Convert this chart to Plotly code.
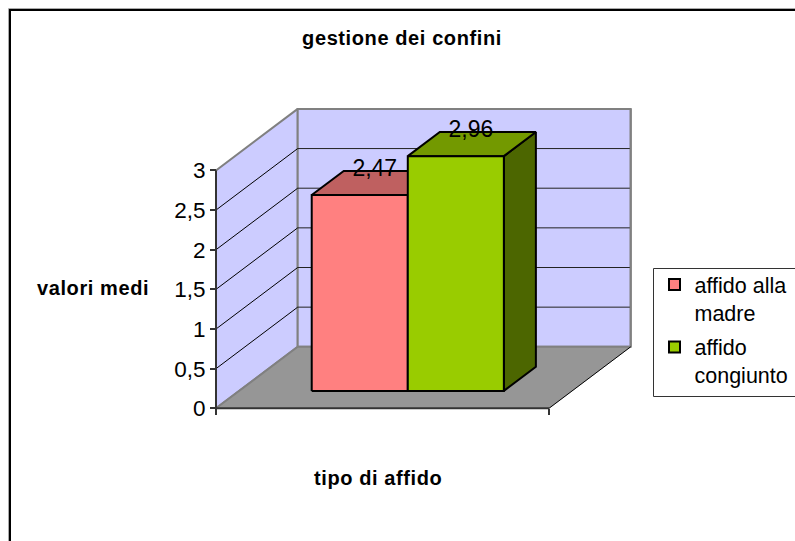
import plotly.graph_objects as go

title = "gestione dei confini"
y_title = "valori medi"
x_title = "tipo di affido"
series_names = ["affido alla<br>madre", "affido<br>congiunto"]
series_values = [2.47, 2.96]
value_labels = ["2,47", "2,96"]
y_ticks = [0, 0.5, 1, 1.5, 2, 2.5, 3]
y_tick_labels = ["0", "0,5", "1", "1,5", "2", "2,5", "3"]

W, H = 795, 541
X0, XW = 216.0, 333.0      # pixel of x=0, pixels per category band
Y0, YU = 408.3, 79.3       # pixel of value 0, pixels per value unit
DX, DY = 81.7 / XW, 61.5 / YU   # full depth in data units
YMAX = y_ticks[-1]
D0, D1 = 0.283, 0.675      # bar depth span (0 front, 1 back)
GAP, BW = 0.218, 0.2885

front_fill = ["#FF8080", "#99CC00"]
top_fill = ["#BF6060", "#739900"]
side_fill = ["#BF6060", "#4C6600"]
WALL, FLOOR, EDGE, DARK = "#CCCCFF", "#969696", "#808080", "#333333"
FONT = "Liberation Sans"


def pr(x, v, d=0.0):
    return x + DX * d, v + DY * d


def poly(points, fill, line, width, name=""):
    p = [pr(*q) for q in points] + [pr(*points[0])]
    return go.Scatter(x=[a for a, _ in p], y=[b for _, b in p], mode="lines", fill="toself",
                      fillcolor=fill, line=dict(color=line, width=width), hoverinfo="skip",
                      showlegend=False)


def seg(a, b, color, width):
    p, q = pr(*a), pr(*b)
    return go.Scatter(x=[p[0], q[0]], y=[p[1], q[1]], mode="lines",
                      line=dict(color=color, width=width), hoverinfo="skip", showlegend=False)


def bold(text):
    return f'<b><span style="letter-spacing:0.6px">{text}</span></b>'


fig = go.Figure()
# walls and floor
fig.add_trace(poly([(0, 0, 0), (0, 0, 1), (0, YMAX, 1), (0, YMAX, 0)], WALL, EDGE, 2))
fig.add_trace(poly([(0, 0, 1), (1, 0, 1), (1, YMAX, 1), (0, YMAX, 1)], WALL, EDGE, 2))
fig.add_trace(poly([(0, 0, 0), (1, 0, 0), (1, 0, 1), (0, 0, 1)], FLOOR, FLOOR, 0.5))
# gridlines
for v in y_ticks[1:-1]:
    fig.add_trace(seg((0, v, 0), (0, v, 1), "#000000", 1))
    fig.add_trace(seg((0, v, 1), (1, v, 1), "#222222", 1))
# floor edges
fig.add_trace(seg((0, 0, 0), (0, 0, 1), EDGE, 2))
fig.add_trace(seg((0, 0, 1), (1, 0, 1), EDGE, 2))
fig.add_trace(seg((1, 0, 1), (1, YMAX, 1), EDGE, 2))
fig.add_trace(seg((1, 0, 0), (1, 0, 1), "#000000", 1))
fig.add_trace(seg((0, 0, 0), (1, 0, 0), DARK, 2))
fig.add_trace(seg((0, 0, 0), (0, YMAX, 0), DARK, 2))

# bars
for i, v in enumerate(series_values):
    a, b = GAP + i * BW, GAP + (i + 1) * BW
    fig.add_trace(poly([(b, 0, D0), (b, 0, D1), (b, v, D1), (b, v, D0)], side_fill[i], "#000000", 2))
    fig.add_trace(poly([(a, v, D0), (b, v, D0), (b, v, D1), (a, v, D1)], top_fill[i], "#000000", 2))
    fig.add_trace(poly([(a, 0, D0), (b, 0, D0), (b, v, D0), (a, v, D0)], front_fill[i], "#000000", 2))

# value labels
for i, v in enumerate(series_values):
    x, y = pr(GAP + (i + 0.5) * BW - 0.003, v + 0.012, (D0 + D1) / 2)
    fig.add_trace(go.Scatter(x=[x], y=[y], mode="text", text=[value_labels[i]],
                             textposition="top center", textfont=dict(family=FONT, size=23, color="#000000"),
                             hoverinfo="skip", showlegend=False))

# legend entries
for i, n in enumerate(series_names):
    fig.add_trace(go.Scatter(x=[None], y=[None], mode="markers", name=n, legendgroup=f"g{i}",
                             marker=dict(symbol="square", size=11, color=front_fill[i],
                                         line=dict(color="#000000", width=2))))

fig.update_layout(
    width=W, height=H, margin=dict(l=0, r=0, t=0, b=0), autosize=False,
    paper_bgcolor="#FFFFFF", plot_bgcolor="#FFFFFF",
    font=dict(family=FONT, color="#000000"),
    title=dict(text=bold(title), x=402 / W, xanchor="center", y=1 - 38 / H, yanchor="middle",
               font=dict(family=FONT, size=20)),
    xaxis=dict(range=[-X0 / XW, (W - X0) / XW], showgrid=False, zeroline=False, showline=False,
               tickmode="array", tickvals=[0, 1], ticks="outside", ticklen=6, tickwidth=2, tickcolor=DARK,
               showticklabels=False, anchor="free", position=1 - Y0 / H, fixedrange=True),
    yaxis=dict(range=[-(H - Y0) / YU, Y0 / YU], showgrid=False, zeroline=False, showline=False,
               tickmode="array", tickvals=y_ticks, ticktext=y_tick_labels, ticks="outside", ticklen=6,
               tickwidth=2, tickcolor=DARK, tickfont=dict(family=FONT, size=22.5, color="#000000"),
               anchor="free", position=X0 / W, fixedrange=True),
    legend=dict(x=654.5 / W, y=1 - 264 / H, xanchor="left", yanchor="top", bgcolor="rgba(0,0,0,0)",
                borderwidth=0, font=dict(family=FONT, size=21.5, color="#000000"),
                valign="top", tracegroupgap=3.5),
    showlegend=True,
    annotations=[
        dict(text=bold(y_title), xref="paper", yref="paper", x=93 / W, y=1 - 288 / H, showarrow=False,
             xanchor="center", yanchor="middle", font=dict(family=FONT, size=20)),
        dict(text=bold(x_title), xref="paper", yref="paper", x=378 / W, y=1 - 478 / H, showarrow=False,
             xanchor="center", yanchor="middle", font=dict(family=FONT, size=20)),
    ],
    shapes=[
        dict(type="rect", xref="paper", yref="paper", x0=10 / W, y0=-0.1, x1=1.1, y1=1 - 10 / H,
             line=dict(color="#000000", width=2), layer="above"),
        dict(type="rect", xref="paper", yref="paper", x0=8.5 / W, y0=-0.1, x1=1.1, y1=1 - 8.5 / H,
             line=dict(color="#AAAAAA", width=1), layer="above"),
        dict(type="rect", xref="paper", yref="paper", x0=653.5 / W, y0=1 - 396.5 / H, x1=1.1, y1=1 - 268.5 / H,
             fillcolor="#FFFFFF", line=dict(color=DARK, width=1), layer="above"),
    ],
)
fig.write_html("out.html", config=dict(displayModeBar=False),
               post_script="document.body.style.margin='0';document.body.style.overflow='hidden';")
